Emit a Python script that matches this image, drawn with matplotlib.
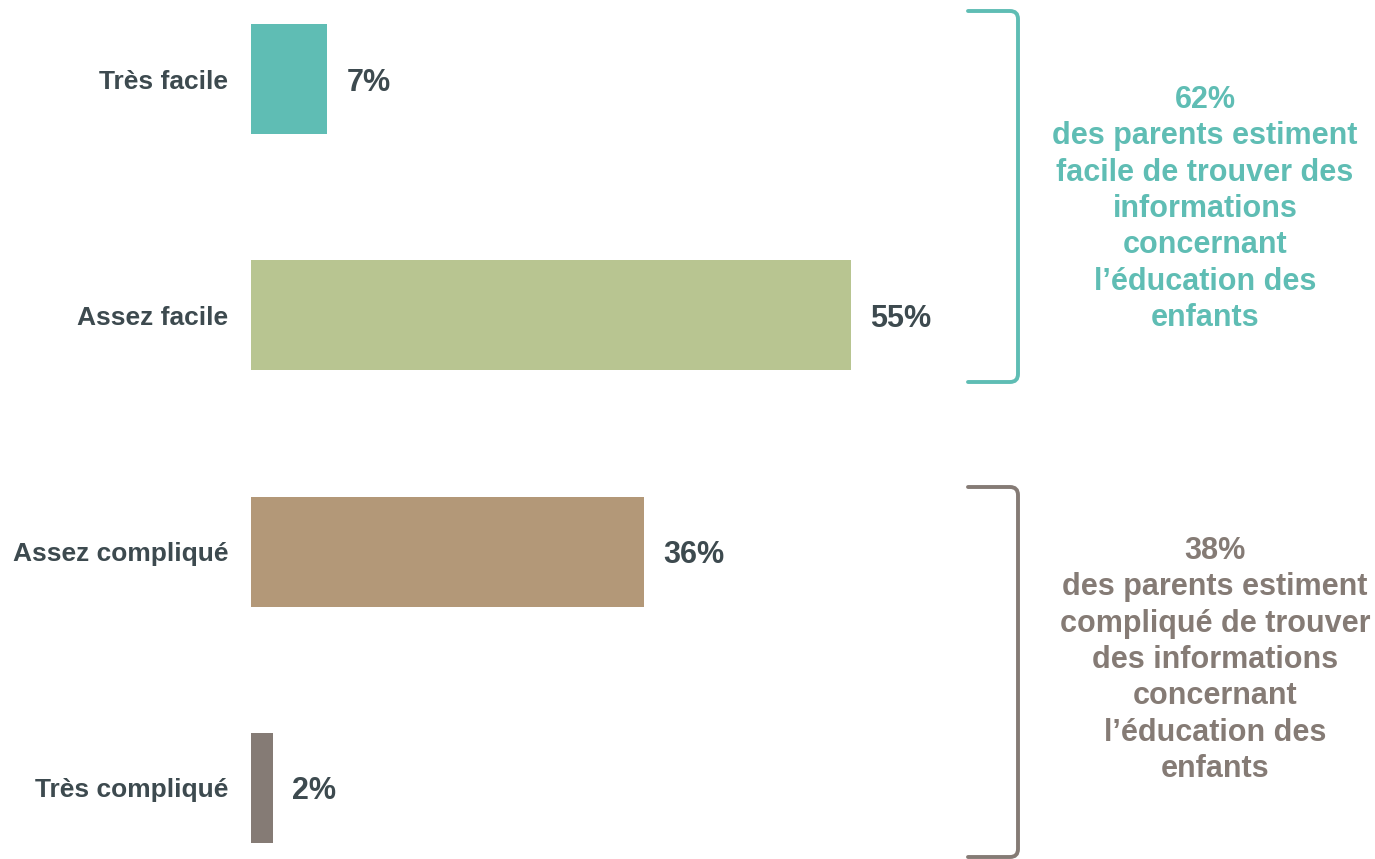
import matplotlib.pyplot as plt
from matplotlib.path import Path
from matplotlib.patches import PathPatch

categories = ['Très facile', 'Assez facile', 'Assez compliqué', 'Très compliqué']
values = [7, 55, 36, 2]
bar_colors = ['#5fbdb4', '#b8c591', '#b39878', '#857b75']

group_labels = ['62%\ndes parents estiment\nfacile de trouver des\ninformations\nconcernant\nl’éducation des\nenfants',
                '38%\ndes parents estiment\ncompliqué de trouver\ndes informations\nconcernant\nl’éducation des\nenfants']
group_colors = ['#5fbdb4', '#857b75']

plt.rcParams['font.family'] = ['Liberation Sans', 'DejaVu Sans']
dark = '#3d4a4f'

fig = plt.figure(figsize=(13.75, 8.59), dpi=100)
ax = fig.add_axes([251/1375, 0, 1 - 251/1375, 1])
ypos = list(range(len(categories)))
ax.barh(ypos, values, height=0.466, color=bar_colors)
ax.set_xlim(0, 103)
ax.set_ylim(3.301, -0.335)
ax.set_yticks(ypos)
ax.set_yticklabels(categories, fontsize=19, fontweight='bold', color=dark)
ax.tick_params(axis='y', length=0, pad=16.5)
ax.set_xticks([])
for s in ax.spines.values():
    s.set_visible(False)

for y, v in zip(ypos, values):
    ax.annotate(f'{v}%', (v, y), xytext=(13.7, 0), textcoords='offset points',
                va='center_baseline', ha='left', fontsize=22, fontweight='bold', color=dark)

# overlay in pixel coords for brackets and side text
ov = fig.add_axes([0, 0, 1, 1])
ov.set_xlim(0, 1375)
ov.set_ylim(859, 0)
ov.axis('off')


def bracket(y0, y1, color):
    x0, x1 = 968, 1018
    r = 8
    verts = [(x0, y0), (x1 - r, y0), (x1, y0), (x1, y0 + r),
             (x1, y1 - r), (x1, y1), (x1 - r, y1), (x0, y1)]
    codes = [Path.MOVETO, Path.LINETO, Path.CURVE3, Path.CURVE3,
             Path.LINETO, Path.CURVE3, Path.CURVE3, Path.LINETO]
    ov.add_patch(PathPatch(Path(verts, codes), fill=False, edgecolor=color,
                           lw=2.8, capstyle='round'))


bracket(11, 382, group_colors[0])
bracket(487, 857, group_colors[1])

ov.text(1205, 209, group_labels[0], ha='center', va='center', fontsize=22,
        fontweight='bold', color=group_colors[0], linespacing=1.28)
ov.text(1215, 660, group_labels[1], ha='center', va='center', fontsize=22,
        fontweight='bold', color=group_colors[1], linespacing=1.28)

fig.savefig('out.png', dpi=100)
